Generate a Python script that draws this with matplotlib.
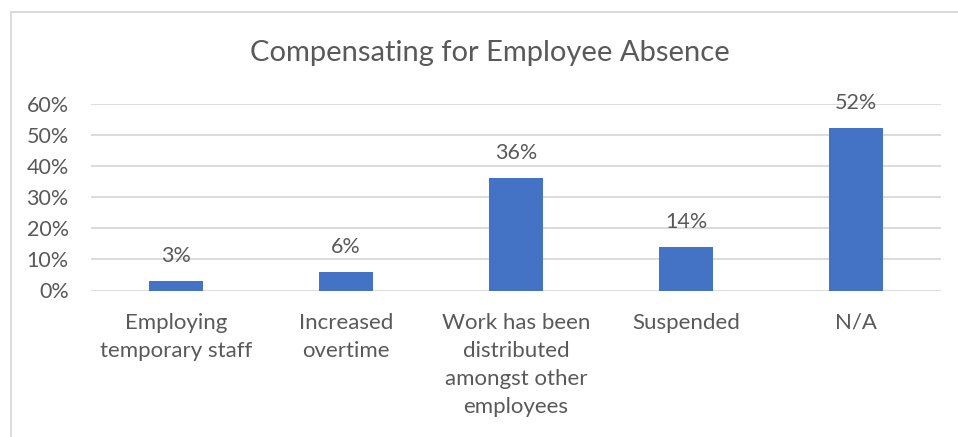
import matplotlib
matplotlib.use("Agg")
import matplotlib.pyplot as plt
from matplotlib.lines import Line2D
from matplotlib.ticker import PercentFormatter

plt.rcParams['font.family'] = ['Lato', 'DejaVu Sans']

categories = [
    "Employing\ntemporary staff",
    "Increased\novertime",
    "Work has been\ndistributed\namongst other\nemployees",
    "Suspended",
    "N/A",
]
values = [0.03, 0.06, 0.36, 0.14, 0.52]
yticks = [0.0, 0.1, 0.2, 0.3, 0.4, 0.5, 0.6]

text_color = "#595959"
grid_color = "#d9d9d9"
bar_color = "#4472C4"

W, H = 958, 437
fig = plt.figure(figsize=(W / 100, H / 100), dpi=100)
fig.patch.set_facecolor("white")

ax = fig.add_axes([91 / W, 1 - 290.5 / H, (941 - 91) / W, (290.5 - 103.5) / H])
x = list(range(len(categories)))
ax.bar(x, values, width=0.318, color=bar_color, zorder=3)

ax.set_xlim(-0.5, len(categories) - 0.5)
ax.set_ylim(0, 0.6)
ax.set_yticks(yticks)
ax.yaxis.set_major_formatter(PercentFormatter(1.0, decimals=0))
ax.grid(axis="y", color=grid_color, linewidth=1.3, zorder=0)
for s in ax.spines.values():
    s.set_visible(False)
ax.tick_params(axis="both", length=0, colors=text_color, labelsize=15.5)
ax.tick_params(axis="y", pad=16)
ax.tick_params(axis="x", pad=16)
ax.set_xticks(x)
ax.set_xticklabels(categories, linespacing=1.5, fontsize=16)

for xi, v in zip(x, values):
    ax.annotate(f"{round(v * 100)}%", xy=(xi, v), xytext=(0, 18),
                textcoords="offset points", ha="center", va="center",
                fontsize=15.5, color=text_color)

fig.text(490 / W, 1 - 53 / H, "Compensating for Employee Absence",
         ha="center", va="center", fontsize=21, color=text_color)

# chart frame
fig.add_artist(Line2D([10.5 / W, 10.5 / W], [0, 1 - 11.5 / H],
                      transform=fig.transFigure, color=grid_color, linewidth=1.3))
fig.add_artist(Line2D([10.5 / W, 1], [1 - 11.5 / H, 1 - 11.5 / H],
                      transform=fig.transFigure, color=grid_color, linewidth=1.3))

fig.savefig("out.png", dpi=100)
